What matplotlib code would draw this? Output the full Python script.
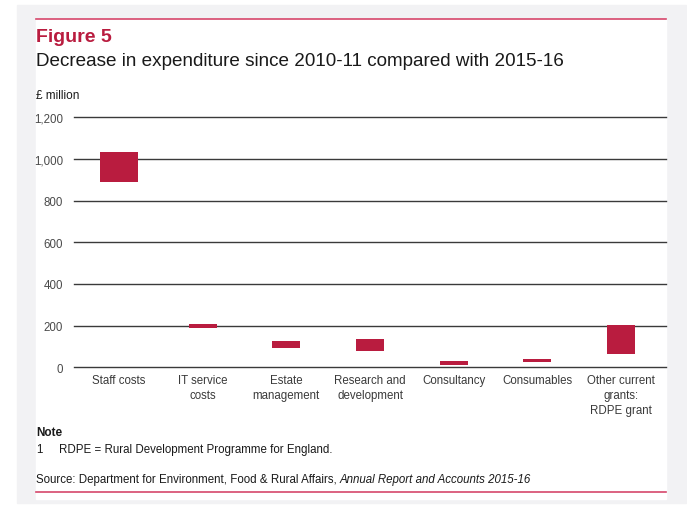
import matplotlib.pyplot as plt
from matplotlib.patches import Rectangle
from matplotlib.lines import Line2D

plt.rcParams['font.family'] = ['Liberation Sans', 'DejaVu Sans']

# spending, £ million
categories = ['Staff costs', 'IT service\ncosts', 'Estate\nmanagement',
              'Research and\ndevelopment', 'Consultancy', 'Consumables',
              'Other current\ngrants:\nRDPE grant']
spend_2015_16 = [891, 188, 93, 80, 11, 25, 64]
spend_2010_11 = [1035, 208, 126, 136, 30, 40, 203]
yticks = [0, 200, 400, 600, 800, 1000, 1200]
ytick_labels = ['0', '200', '400', '600', '800', '1,000', '1,200']

RED = '#b91c3f'
LINE_RED = '#d6476b'
W, H = 687, 506

def fx(px):
    return px / W

def fy(py):
    return 1 - py / H

fig = plt.figure(figsize=(6.87, 5.06), dpi=100)

# grey frame and white panel behind everything
fig.patches.append(Rectangle((fx(17), fy(504)), fx(686) - fx(17), fy(6) - fy(504),
                             transform=fig.transFigure, color='#f2f2f4', zorder=-10))
fig.patches.append(Rectangle((fx(36), fy(500)), fx(666) - fx(36), fy(20) - fy(500),
                             transform=fig.transFigure, color='white', zorder=-9))
for yy in (20, 493):
    fig.lines.append(Line2D([fx(36), fx(666)], [fy(yy), fy(yy)],
                            transform=fig.transFigure, color=LINE_RED, lw=1.2))

fig.text(fx(36), fy(37), 'Figure 5', color=RED, fontsize=14, fontweight='bold',
         va='center', ha='left')
fig.text(fx(36), fy(62), 'Decrease in expenditure since 2010-11 compared with 2015-16',
         color='#1a1a1a', fontsize=13.6, va='center', ha='left')
fig.text(fx(36), fy(96), '£ million', color='#1a1a1a', fontsize=8.5, va='center')

ax = fig.add_axes([fx(74), fy(368.3), fx(666) - fx(74), fy(118.3) - fy(368.3)])
ax.set_facecolor('none')

x = list(range(len(categories)))
widths = [0.454] + [0.335] * (len(categories) - 1)
heights = [hi - lo for lo, hi in zip(spend_2015_16, spend_2010_11)]
ax.bar(x, heights, bottom=spend_2015_16, width=widths, color=RED, zorder=3)

ax.set_ylim(0, 1200)
ax.set_xlim(-0.54, 6.54)
ax.set_yticks(yticks)
ax.set_yticklabels(ytick_labels)
ax.set_xticks(x)
ax.set_xticklabels(categories, linespacing=1.3)
ax.tick_params(axis='y', length=0, pad=8, labelsize=8.3, labelcolor='#4a4a4a')
ax.tick_params(axis='x', length=0, pad=5, labelsize=8.3, labelcolor='#3a3a3a')
for s in ax.spines.values():
    s.set_visible(False)
for yv in yticks:
    ax.axhline(yv, color='#3a3a3a', lw=1.0, zorder=1, clip_on=False)

fig.text(fx(36), fy(433), 'Note', fontsize=8.5, fontweight='bold', color='#1a1a1a', va='center')
fig.text(fx(36), fy(450), '1', fontsize=8.3, color='#1a1a1a', va='center')
fig.text(fx(59), fy(450), 'RDPE = Rural Development Programme for England.',
         fontsize=8.3, color='#1a1a1a', va='center')
src = fig.text(fx(36), fy(480), 'Source: Department for Environment, Food & Rural Affairs, ',
               fontsize=8.3, color='#1a1a1a', va='center')
ax.annotate('Annual Report and Accounts 2015-16', xy=(1, 0), xycoords=src,
            va='bottom', ha='left', fontsize=8.3, style='italic', color='#1a1a1a',
            annotation_clip=False)

fig.savefig('out.png', dpi=100)
